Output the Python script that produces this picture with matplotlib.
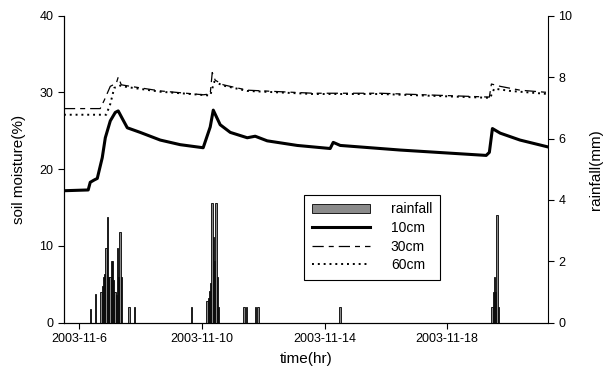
import numpy as np
import matplotlib
matplotlib.use('Agg')
import matplotlib.pyplot as plt
from matplotlib.patches import Patch
from matplotlib.lines import Line2D

plt.rcParams['font.family'] = ['Liberation Sans', 'DejaVu Sans']

# hours since 2003-11-6 00:00
rain_hr = [9, 13, 17, 18, 19, 20, 21, 22, 23, 24, 25, 26, 27, 28, 29, 30, 31, 32, 33,
           39, 43, 88,
           100, 101, 102, 103, 104, 105, 106, 107, 108, 109,
           129, 131, 138, 140, 204,
           323, 324, 325, 326, 327, 328]
rain_mm = [0.45, 0.95, 1.0, 1.2, 1.5, 1.6, 2.45, 3.45, 1.5, 1.5, 2.0, 2.0, 1.4, 1.0, 0.9, 2.45, 1.5, 2.95, 1.5,
           0.5, 0.5, 0.5,
           0.7, 0.8, 1.05, 1.3, 3.9, 2.8, 2.0, 3.9, 1.5, 0.5,
           0.5, 0.5, 0.5, 0.5, 0.5,
           0.5, 1.0, 1.5, 1.0, 3.5, 0.5]

hr10 = [-12, 7.0, 8.6, 11.7, 14.1, 18.0, 20.4, 24.3, 28.2, 30.5, 33.7, 37.6, 47.7, 63.4, 79,
        97, 102.5, 104.9, 110.3, 118.2, 131.5, 137.7, 147.1, 170.6, 196.4, 198.8, 204.3,
        235.6, 251.2, 318.5, 321, 323.4, 329.5, 345, 367]
sm10 = [17.2, 17.3, 18.3, 18.6, 18.8, 21.5, 24.1, 26.3, 27.4, 27.6, 26.6, 25.4, 24.8, 23.8, 23.2,
        22.8, 25.5, 27.7, 25.8, 24.8, 24.1, 24.3, 23.7, 23.1, 22.7, 23.5, 23.1,
        22.7, 22.5, 21.8, 22.2, 25.3, 24.7, 23.8, 22.9]

hr30 = [-12, 16.4, 19.6, 24.3, 29.0, 30.5, 32.9, 40, 63.4, 97, 102.5, 104.1, 106.4, 112.7,
        131.5, 183, 235.6, 321, 322.6, 329.5, 345, 367]
sm30 = [27.9, 27.9, 29.0, 30.8, 31.2, 32.0, 31.0, 30.8, 30.2, 29.7, 29.8, 32.6, 31.6, 31.0,
        30.3, 29.9, 29.9, 29.4, 31.1, 30.8, 30.3, 30.0]

hr60 = [-12, 21.1, 24.3, 27.4, 32.1, 37.6, 63.4, 102.5, 104.1, 105.7, 112.7, 131.5, 183,
        235.6, 321.6, 324.8, 337.3, 367]
sm60 = [27.1, 27.1, 28.5, 30.6, 30.9, 30.7, 30.1, 29.6, 30.5, 31.4, 30.9, 30.2, 29.8,
        29.8, 29.3, 30.5, 30.2, 29.8]

tick_hr = [0, 96, 192, 288]
tick_lab = ['2003-11-6', '2003-11-10', '2003-11-14', '2003-11-18']

fig = plt.figure(figsize=(6.03, 3.74), dpi=100)
ax1 = fig.add_axes([0.106, 0.137, 0.803, 0.821])
ax2 = ax1.twinx()

ax2.bar(rain_hr, rain_mm, width=1.0, color='#8a8a8a', edgecolor='black', linewidth=0.6)

ax1.plot(hr10, sm10, color='black', lw=2.2)
ax1.plot(hr30, sm30, color='black', lw=0.9, linestyle=(0, (9, 4, 4, 4)))
ax1.plot(hr60, sm60, color='black', lw=1.4, linestyle=(0, (1, 2)))

ax1.set_xlim(-12, 367)
ax1.set_ylim(0, 40)
ax2.set_ylim(0, 10)
ax1.set_yticks([0, 10, 20, 30, 40])
ax2.set_yticks([0, 2, 4, 6, 8, 10])
ax1.set_xticks(tick_hr)
ax1.set_xticklabels(tick_lab)

for a in (ax1, ax2):
    a.spines['top'].set_visible(False)
    a.tick_params(direction='out', length=4, width=0.8, labelsize=9)
ax1.spines['right'].set_visible(False)

ax1.set_ylabel('soil moisture(%)', fontsize=11, labelpad=10)
ax2.set_ylabel('rainfall(mm)', fontsize=11, labelpad=12)
ax1.set_xlabel('time(hr)', fontsize=11, labelpad=5)

handles = [Patch(facecolor='#8a8a8a', edgecolor='black', linewidth=0.6),
           Line2D([], [], color='black', lw=2.2),
           Line2D([], [], color='black', lw=0.9, linestyle=(0, (9, 4, 4, 4))),
           Line2D([], [], color='black', lw=1.4, linestyle=(0, (1, 2)))]
leg = ax2.legend(handles, ['rainfall', '10cm', '30cm', '60cm'], loc='lower left',
                 bbox_to_anchor=(0.496, 0.14), borderaxespad=0, fontsize=10,
                 handlelength=4.2, fancybox=False, framealpha=1, edgecolor='black',
                 labelspacing=0.33, handletextpad=1.5, borderpad=0.55)
leg.get_frame().set_linewidth(0.8)

fig.savefig('out.png', dpi=100)
